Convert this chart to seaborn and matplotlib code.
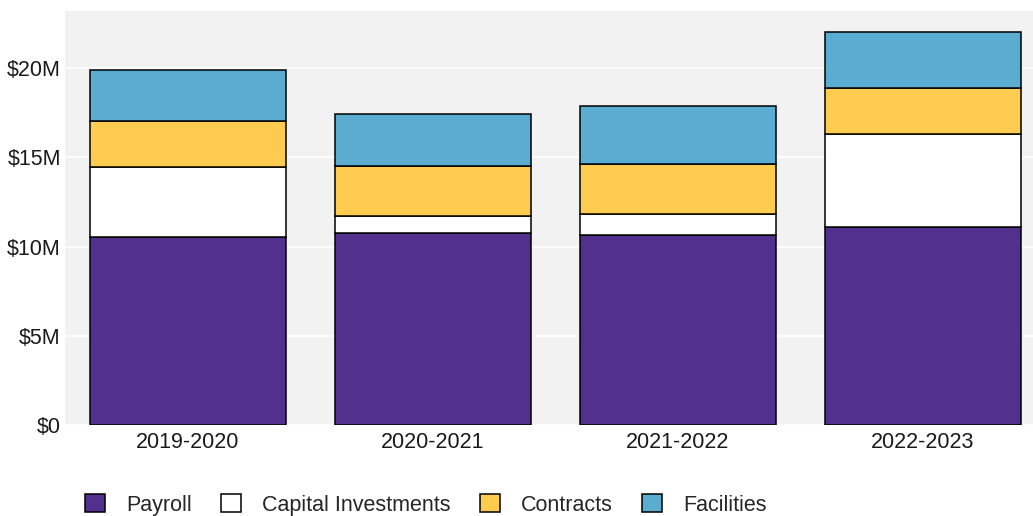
import matplotlib
matplotlib.use("Agg")
import matplotlib.pyplot as plt
from matplotlib.patches import Patch
from matplotlib.ticker import FuncFormatter
import numpy as np
import pandas as pd
import seaborn as sns

# Spending by fiscal year, in millions of dollars
years = ["2019-2020", "2020-2021", "2021-2022", "2022-2023"]
payroll = [10.56, 10.78, 10.67, 11.12]
capital_investments = [3.88, 0.95, 1.14, 5.17]
contracts = [2.62, 2.79, 2.80, 2.58]
facilities = [2.84, 2.91, 3.27, 3.14]

series_names = ["Payroll", "Capital Investments", "Contracts", "Facilities"]
series_values = [payroll, capital_investments, contracts, facilities]
series_colors = ["#52308D", "#FFFFFF", "#FFCC50", "#5BACD1"]

sns.set_theme(style="darkgrid")
plt.rcParams["font.family"] = ["Liberation Sans", "DejaVu Sans"]

fig = plt.figure(figsize=(10.33, 5.16), dpi=100)
ax = fig.add_axes([65 / 1033, 91 / 516, 980 / 1033, 414 / 516])
ax.set_facecolor("#F2F2F2")

bottom = np.zeros(len(years))
for name, vals, col in zip(series_names, series_values, series_colors):
    df = pd.DataFrame({"year": years, "value": vals})
    sns.barplot(data=df, x="year", y="value", bottom=bottom, color=col,
                saturation=1, width=0.8, edgecolor="black", linewidth=1.1,
                ax=ax, zorder=3)
    bottom = bottom + np.array(vals)

ax.set_xlim(-0.5, 3.5)
ax.set_ylim(0, 23.2)
ax.set_yticks([0, 5, 10, 15, 20])
ax.yaxis.set_major_formatter(FuncFormatter(lambda v, p: "$0" if v == 0 else f"${v:.0f}M"))
ax.grid(axis="y", color="white", linewidth=1.2)
ax.grid(axis="x", visible=False)
ax.set_xlabel("")
ax.set_ylabel("")
ax.tick_params(axis="both", length=0, labelsize=15.5, labelcolor="#1a1a1a")
ax.tick_params(axis="x", pad=5)
ax.tick_params(axis="y", pad=3)
for s in ax.spines.values():
    s.set_visible(False)

handles = [Patch(facecolor=c, edgecolor="black", linewidth=1.1) for c in series_colors]
fig.legend(handles, series_names, loc="center left", bbox_to_anchor=(0.0823, 0.021),
           ncol=4, frameon=False, fontsize=15.5, handlelength=0.93, handleheight=0.9,
           handletextpad=0.98, columnspacing=1.35, borderpad=0, borderaxespad=0)

fig.savefig("out.png", dpi=100)
